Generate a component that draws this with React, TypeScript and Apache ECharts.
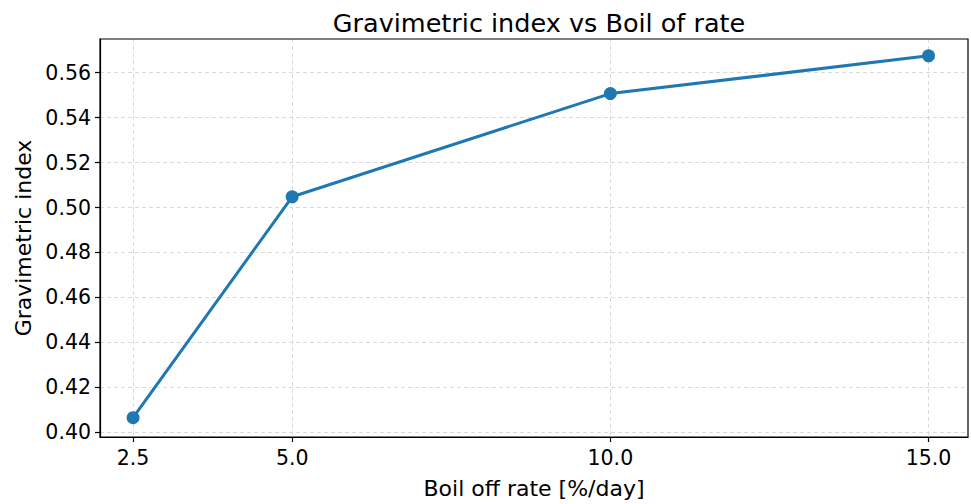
import React, { useEffect, useRef } from "react";
import * as echarts from "echarts";

const boilOffRates = [2.5, 5.0, 10.0, 15.0];
const gravimetricIndex = [0.4065, 0.5048, 0.5507, 0.5675];
const xTicks = [2.5, 5.0, 10.0, 15.0];
const yTicks = [0.4, 0.42, 0.44, 0.46, 0.48, 0.5, 0.52, 0.54, 0.56];

const FONT = "DejaVu Sans";

export default function App() {
  const ref = useRef<HTMLDivElement>(null);
  useEffect(() => {
    if (!ref.current) return;
    const chart = echarts.init(ref.current, undefined, { renderer: "svg" });
    chart.setOption({
      animation: false,
      backgroundColor: "#ffffff",
      title: {
        text: "Gravimetric index vs Boil of rate",
        left: 534,
        top: 5,
        textAlign: "center",
        textStyle: { fontFamily: FONT, fontSize: 25.5, fontWeight: "normal", color: "#000" },
      },
      grid: { left: 100, top: 39, right: 3, bottom: 67, containLabel: false },
      xAxis: {
        type: "value",
        min: 1.98,
        max: 15.62,
        name: "Boil off rate [%/day]",
        nameLocation: "middle",
        nameGap: 40,
        nameTextStyle: { fontFamily: FONT, fontSize: 22, color: "#000" },
        axisLine: { show: true, onZero: false, lineStyle: { color: "#000", width: 1.2 } },
        axisTick: { show: true, length: 5, lineStyle: { color: "#000", width: 1.2 }, customValues: xTicks },
        axisLabel: {
          customValues: xTicks,
          formatter: (v: number) => v.toFixed(1),
          fontFamily: FONT,
          fontSize: 20.5,
          color: "#000",
          margin: 10,
        },
        splitLine: { show: true, lineStyle: { color: "#d6d6d6", type: [4, 3], width: 0.9 } },
      },
      yAxis: {
        type: "value",
        min: 0.3979,
        max: 0.575,
        name: "Gravimetric index",
        nameLocation: "middle",
        nameGap: 66,
        nameTextStyle: { fontFamily: FONT, fontSize: 22, color: "#000" },
        axisLine: { show: true, onZero: false, lineStyle: { color: "#000", width: 1.2 } },
        axisTick: { show: true, length: 5, lineStyle: { color: "#000", width: 1.2 }, customValues: yTicks },
        axisLabel: {
          customValues: yTicks,
          formatter: (v: number) => v.toFixed(2),
          fontFamily: FONT,
          fontSize: 20.5,
          color: "#000",
          margin: 9,
        },
        splitLine: { show: true, lineStyle: { color: "#d6d6d6", type: [4, 3], width: 0.9 } },
      },
      graphic: [
        {
          type: "rect",
          shape: { x: 100, y: 39, width: 868, height: 398 },
          style: { fill: "none", stroke: "#000", lineWidth: 1.2 },
          z: 10,
          silent: true,
        },
      ],
      series: [
        {
          type: "line",
          data: boilOffRates.map((x, i) => [x, gravimetricIndex[i]]),
          symbol: "circle",
          symbolSize: 13,
          lineStyle: { color: "#1f77b4", width: 3 },
          itemStyle: { color: "#1f77b4" },
          z: 5,
        },
      ],
    });
    return () => chart.dispose();
  }, []);
  return <div ref={ref} style={{ width: 971, height: 504, position: "absolute", left: 0, top: 0 }} />;
}
